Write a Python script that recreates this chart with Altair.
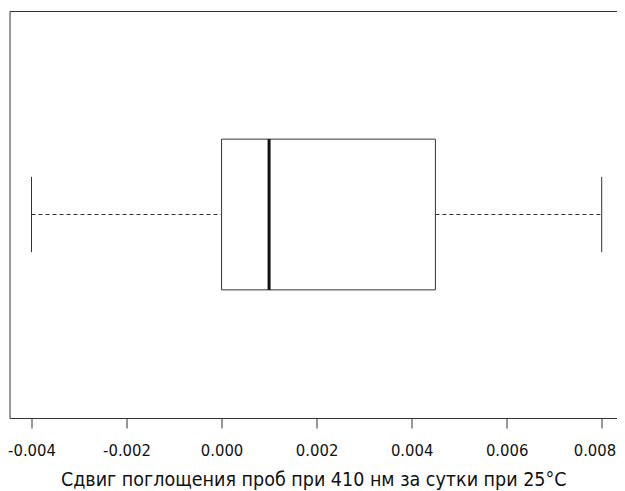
import altair as alt
import pandas as pd

# Box-plot statistics
whisker_low = [-0.004]
q1 = [0.000]
median = [0.001]
q3 = [0.0045]
whisker_high = [0.008]
tick_values = [-0.004, -0.002, 0.000, 0.002, 0.004, 0.006, 0.008]
x_title = "Сдвиг поглощения проб при 410 нм за сутки при 25°C"

df = pd.DataFrame({
    "lo": whisker_low, "q1": q1, "med": median, "q3": q3, "hi": whisker_high,
    "y": [1.0], "box_lo": [0.8], "box_hi": [1.2], "cap_lo": [0.9], "cap_hi": [1.1],
})

FONT = "DejaVu Sans Condensed, DejaVu Sans"

xscale = alt.Scale(domain=[-0.004463, 0.008322], nice=False, zero=False)
yscale = alt.Scale(domain=[0.46, 1.54], nice=False, zero=False)

xaxis = alt.Axis(
    values=tick_values,
    labelExpr="replace(format(datum.value, '.3f'), '\u2212', '-')",
    title=x_title, grid=False, domain=False,
    tickColor="#333", tickSize=10, labelColor="#111", labelFont=FONT, labelFontSize=16.5,
    labelPadding=14, labelFlush=18, labelFlushOffset=14,
    titleFont=FONT, titleFontSize=19.5, titleFontWeight="normal",
    titleColor="#111", titlePadding=12,
)

base = alt.Chart(df)

whiskers_left = base.mark_rule(color="#333", strokeDash=[4, 3], strokeWidth=1).encode(
    x=alt.X("lo:Q", scale=xscale, axis=xaxis), x2="q1:Q",
    y=alt.Y("y:Q", scale=yscale, axis=None),
)
whiskers_right = base.mark_rule(color="#333", strokeDash=[4, 3], strokeWidth=1).encode(
    x=alt.X("q3:Q", scale=xscale), x2="hi:Q",
    y=alt.Y("y:Q", scale=yscale),
)
cap_left = base.mark_rule(color="#333", strokeWidth=1).encode(
    x=alt.X("lo:Q", scale=xscale), y=alt.Y("cap_lo:Q", scale=yscale), y2="cap_hi:Q",
)
cap_right = base.mark_rule(color="#333", strokeWidth=1).encode(
    x=alt.X("hi:Q", scale=xscale), y=alt.Y("cap_lo:Q", scale=yscale), y2="cap_hi:Q",
)
box = base.mark_rect(fill="white", stroke="#333", strokeWidth=1).encode(
    x=alt.X("q1:Q", scale=xscale), x2="q3:Q",
    y=alt.Y("box_lo:Q", scale=yscale), y2="box_hi:Q",
)
med = base.mark_rule(color="#111", strokeWidth=3).encode(
    x=alt.X("med:Q", scale=xscale), y=alt.Y("box_lo:Q", scale=yscale), y2="box_hi:Q",
)

chart = alt.layer(whiskers_left, whiskers_right, cap_left, cap_right, box, med).properties(
    width=607.5, height=407,
    background="white",
    autosize=alt.AutoSizeParams(type="none"),
    padding={"left": 1.5, "top": 3, "right": 0, "bottom": 80},
).configure_view(stroke="#333", strokeWidth=1)

chart.save("out.html", embed_options={"renderer": "svg", "actions": False})
